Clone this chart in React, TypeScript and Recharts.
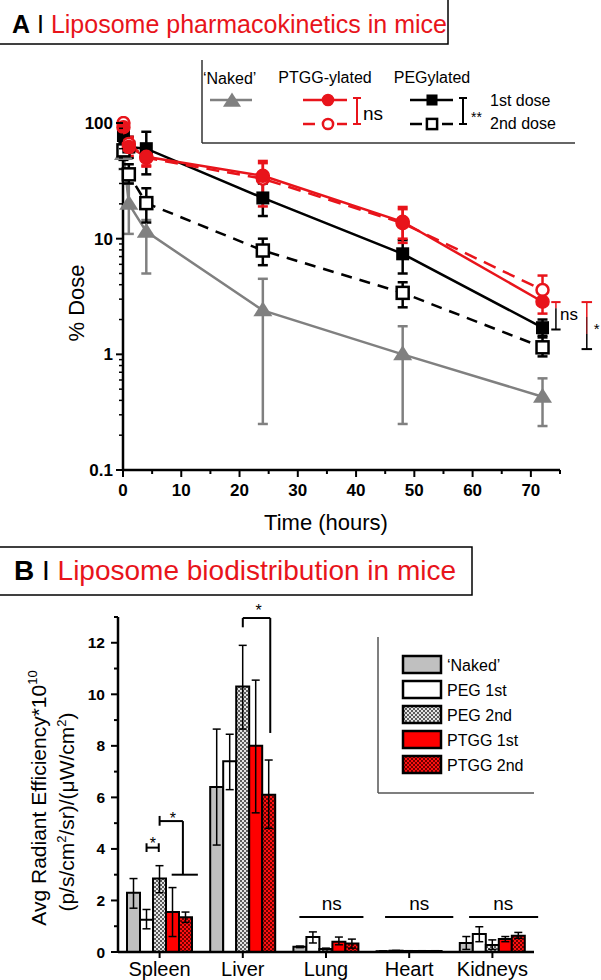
import React from "react";
import {
  LineChart, Line, BarChart, Bar, XAxis, YAxis, ErrorBar,
  ReferenceLine, ReferenceDot, Legend,
} from "recharts";

const FONT = "'Liberation Sans', Arial, Helvetica, sans-serif";
const RED = "#e8141b";
const BAR_RED = "#ff0000";
const GRAY = "#808080";

// ---------- A: pharmacokinetics (% dose vs time) ----------
const hours = [0.08, 1, 4, 24, 48, 72];
const naked = [54, 20, 11.5, 2.4, 1.0, 0.43];
const nakedErr = [[14, 8], [9, 10], [6.5, 3], [2.15, 2.1], [0.75, 0.75], [0.19, 0.19]];
const ptgg1st = [92, 62, 51, 35, 14, 2.85];
const ptgg1stErr = [[10, 8], [10, 12], [8, 10], [16, 12], [4, 4], [0.6, 0.8]];
const ptgg2nd = [100, 66, 50, 33, 13.6, 3.6];
const ptgg2ndErr = [[10, 8], [10, 10], [8, 8], [9, 12], [4.4, 5.2], [0.8, 1.2]];
const peg1st = [78, 62, 60, 22.5, 7.4, 1.7];
const peg1stErr = [[12, 10], [12, 14], [24, 24], [6.8, 7.5], [2.4, 2.3], [0.25, 0.3]];
const peg2nd = [58, 36, 20.3, 7.9, 3.4, 1.15];
const peg2ndErr = [[10, 10], [6, 8], [6.5, 7], [2, 2.1], [0.85, 0.8], [0.19, 0.25]];

const xTicksA = [0, 5, 10, 15, 20, 25, 30, 35, 40, 45, 50, 55, 60, 65, 70, 75];
const xLabelsA = [0, 10, 20, 30, 40, 50, 60, 70];
const yTicksA = [
  0.1, 0.2, 0.3, 0.4, 0.5, 0.6, 0.7, 0.8, 0.9,
  1, 2, 3, 4, 5, 6, 7, 8, 9,
  10, 20, 30, 40, 50, 60, 70, 80, 90, 100,
];
const yLabelsA = [0.1, 1, 10, 100];

const rowsA = hours.map((t, i) => ({
  t,
  naked: naked[i], nakedErr: nakedErr[i],
  ptgg1: ptgg1st[i], ptgg1Err: ptgg1stErr[i],
  ptgg2: ptgg2nd[i], ptgg2Err: ptgg2ndErr[i],
  peg1: peg1st[i], peg1Err: peg1stErr[i],
  peg2: peg2nd[i], peg2Err: peg2ndErr[i],
}));

// ---------- B: biodistribution (bars) ----------
const organs = ["Spleen", "Liver", "Lung", "Heart", "Kidneys"];
const nakedB = [2.3, 6.4, 0.2, 0.03, 0.35];
const nakedBErr = [[0.6, 0.55], [2.25, 2.25], [0.03, 0.03], [0.01, 0.01], [0.25, 0.25]];
const peg1B = [1.25, 7.4, 0.58, 0.05, 0.7];
const peg1BErr = [[0.35, 0.4], [1.1, 1.05], [0.23, 0.2], [0.01, 0.01], [0.3, 0.28]];
const peg2B = [2.85, 10.3, 0.12, 0.04, 0.27];
const peg2BErr = [[0.55, 0.5], [1.65, 1.6], [0.03, 0.03], [0.01, 0.01], [0.17, 0.2]];
const ptgg1B = [1.55, 8.0, 0.4, 0.04, 0.5];
const ptgg1BErr = [[0.95, 0.95], [2.6, 2.55], [0.12, 0.18], [0.01, 0.01], [0.1, 0.1]];
const ptgg2B = [1.35, 6.1, 0.33, 0.04, 0.63];
const ptgg2BErr = [[0.2, 0.2], [1.3, 1.35], [0.18, 0.17], [0.01, 0.01], [0.1, 0.13]];
const yTicksB = [0, 1, 2, 3, 4, 5, 6, 7, 8, 9, 10, 11, 12, 13];

const rowsB = organs.map((organ, i) => ({
  organ,
  pos: i + 0.5, // band centre on the hidden numeric axis used for annotations
  naked: nakedB[i], nakedErr: nakedBErr[i],
  peg1: peg1B[i], peg1Err: peg1BErr[i],
  peg2: peg2B[i], peg2Err: peg2BErr[i],
  ptgg1: ptgg1B[i], ptgg1Err: ptgg1BErr[i],
  ptgg2: ptgg2B[i], ptgg2Err: ptgg2BErr[i],
}));

// ---------- markers ----------
function Marker({ kind, cx, cy, s = 1 }: any) {
  if (cx == null || cy == null) return null;
  switch (kind) {
    case "tri":
      return <path d={`M${cx},${cy - 9 * s} L${cx + 9.5 * s},${cy + 6 * s} L${cx - 9.5 * s},${cy + 6 * s} Z`} fill={GRAY} />;
    case "circleFill":
      return <circle cx={cx} cy={cy} r={6.5 * s} fill={RED} stroke={RED} strokeWidth={1.5} />;
    case "circleOpen":
      return <circle cx={cx} cy={cy} r={6 * s} fill="#fff" stroke={RED} strokeWidth={2.5} />;
    case "sqFill":
      return <rect x={cx - 6.5 * s} y={cy - 6.5 * s} width={13 * s} height={13 * s} fill="#000" />;
    default:
      return <rect x={cx - 6 * s} y={cy - 6 * s} width={12 * s} height={12 * s} fill="#fff" stroke="#000" strokeWidth={2.5} />;
  }
}
const dotFn = (kind: string) => (p: any) => (
  <Marker key={p.key ?? `d-${p.index}`} kind={kind} cx={p.cx} cy={p.cy} />
);

// ---------- ticks ----------
const XTickA = ({ x, y, payload }: any) => {
  const v = payload.value;
  const major = xLabelsA.includes(v);
  return (
    <g>
      <line x1={x} x2={x} y1={y} y2={y + (major ? 7 : 4)} stroke="#000" strokeWidth={2} />
      {major && (
        <text x={x} y={y + 26} textAnchor="middle" fontFamily={FONT} fontWeight="bold" fontSize={17} fill="#000">{v}</text>
      )}
    </g>
  );
};

const YTickA = ({ x, y, payload }: any) => {
  const v = payload.value;
  const major = yLabelsA.includes(v);
  return (
    <g>
      <line x1={x - (major ? 7 : 4)} x2={x} y1={y} y2={y} stroke="#000" strokeWidth={major ? 2 : 1.5} />
      {major && (
        <text x={x - 10} y={y + 6} textAnchor="end" fontFamily={FONT} fontWeight="bold" fontSize={17} fill="#000">{v}</text>
      )}
    </g>
  );
};

const YTickB = ({ x, y, payload }: any) => {
  const v = payload.value;
  const major = v % 2 === 0;
  return (
    <g>
      <line x1={x - (major ? 7 : 4)} x2={x} y1={y} y2={y} stroke="#000" strokeWidth={2} />
      {major && (
        <text x={x - 13} y={y + 5.5} textAnchor="end" fontFamily={FONT} fontWeight="bold" fontSize={15.5} fill="#000">{v}</text>
      )}
    </g>
  );
};

const textShape = (txt: string, size: number, anchor: string = "start") => (p: any) => (
  <text x={p.cx} y={p.cy} fontSize={size} fontFamily={FONT} textAnchor={anchor} fill="#000">{txt}</text>
);

// ---------- legends ----------
function LegendA() {
  const t = { fontFamily: FONT, fontSize: 16, fill: "#000" };
  return (
    <svg width={380} height={88} style={{ display: "block", overflow: "visible" }}>
      <line x1={5} y1={2} x2={5} y2={85} stroke="#333" strokeWidth={1.5} />
      <line x1={5} y1={85} x2={378} y2={85} stroke="#333" strokeWidth={1.5} />
      <text x={6} y={26} {...t}>‘Naked’</text>
      <line x1={13} x2={55} y1={42} y2={42} stroke={GRAY} strokeWidth={2.5} />
      <Marker kind="tri" cx={35} cy={43} s={0.95} />

      <text x={128} y={25} textAnchor="middle" {...t}>PTGG-ylated</text>
      <line x1={106} x2={150} y1={42} y2={42} stroke={RED} strokeWidth={2.5} />
      <Marker kind="circleFill" cx={131} cy={42} s={0.85} />
      <line x1={106} x2={118} y1={66} y2={66} stroke={RED} strokeWidth={2.5} />
      <line x1={140} x2={150} y1={66} y2={66} stroke={RED} strokeWidth={2.5} />
      <Marker kind="circleOpen" cx={131} cy={66} s={0.85} />
      <path d="M156,40 H164 M160,40 V66 M156,66 H164" stroke={RED} strokeWidth={2} fill="none" />
      <text x={166} y={62} {...t} fontSize={19}>ns</text>

      <text x={235} y={25} textAnchor="middle" {...t}>PEGylated</text>
      <line x1={213} x2={256} y1={42} y2={42} stroke="#000" strokeWidth={2.5} />
      <Marker kind="sqFill" cx={235} cy={42} s={0.85} />
      <line x1={213} x2={225} y1={66} y2={66} stroke="#000" strokeWidth={2.5} />
      <line x1={245} x2={256} y1={66} y2={66} stroke="#000" strokeWidth={2.5} />
      <Marker kind="sqOpen" cx={235} cy={66} s={0.85} />
      <path d="M262,40 H270 M266,40 V66 M262,66 H270" stroke="#000" strokeWidth={2} fill="none" />
      <text x={274} y={64} {...t} fontSize={14}>**</text>
      <text x={293} y={48} {...t}>1st dose</text>
      <text x={293} y={71} {...t}>2nd dose</text>
    </svg>
  );
}

const legendBItems = [
  { label: "‘Naked’", fill: "#c0c0c0" },
  { label: "PEG 1st", fill: "#ffffff" },
  { label: "PEG 2nd", fill: "url(#pegChk)" },
  { label: "PTGG 1st", fill: BAR_RED },
  { label: "PTGG 2nd", fill: "url(#ptggChk)" },
];

function LegendB() {
  return (
    <svg width={162} height={162} style={{ display: "block", overflow: "visible" }}>
      <line x1={3} y1={3} x2={3} y2={159} stroke="#555" strokeWidth={1.5} />
      <line x1={3} y1={159} x2={159} y2={159} stroke="#555" strokeWidth={1.5} />
      {legendBItems.map((it, i) => (
        <g key={it.label}>
          <rect x={28} y={22 + i * 25} width={38} height={17} fill={it.fill} stroke="#000" strokeWidth={2.5} />
          <text x={72} y={36.5 + i * 25} fontFamily={FONT} fontSize={16} fill="#000">{it.label}</text>
        </g>
      ))}
    </svg>
  );
}

export default function App() {
  return (
    <div style={{ position: "absolute", left: 0, top: 0, width: 601, height: 980, background: "#fff", overflow: "hidden" }}>
      {/* A: pharmacokinetics */}
      <div style={{ position: "absolute", left: 0, top: 0 }}>
        <LineChart width={601} height={540} data={rowsA} margin={{ top: 116, right: 41, bottom: 0, left: 0 }}>
          <XAxis
            type="number" dataKey="t" domain={[0, 75]} ticks={xTicksA} interval={0}
            height={70} tickSize={0} tickMargin={0} tickLine={false} tick={<XTickA />}
            axisLine={{ stroke: "#000", strokeWidth: 2.5 }}
          />
          <YAxis
            type="number" scale="log" domain={[0.1, 115]} allowDataOverflow ticks={yTicksA} interval={0}
            width={123} tickSize={0} tickMargin={0} tickLine={false} tick={<YTickA />}
            axisLine={{ stroke: "#000", strokeWidth: 2.5 }}
          />
          <Legend
            verticalAlign="middle" align="center" layout="horizontal"
            content={() => <LegendA />}
            wrapperStyle={{ left: 197, top: 58, width: 380, height: 88, margin: 0, padding: 0 }}
          />
          <Line dataKey="naked" stroke={GRAY} strokeWidth={2.5} dot={dotFn("tri")} activeDot={false} isAnimationActive={false}>
            <ErrorBar dataKey="nakedErr" direction="y" width={5} stroke={GRAY} strokeWidth={2.5} />
          </Line>
          <Line dataKey="peg2" stroke="#000" strokeWidth={2.5} strokeDasharray="11 8" dot={dotFn("sqOpen")} activeDot={false} isAnimationActive={false}>
            <ErrorBar dataKey="peg2Err" direction="y" width={5} stroke="#000" strokeWidth={2.5} />
          </Line>
          <Line dataKey="peg1" stroke="#000" strokeWidth={2.5} dot={dotFn("sqFill")} activeDot={false} isAnimationActive={false}>
            <ErrorBar dataKey="peg1Err" direction="y" width={5} stroke="#000" strokeWidth={2.5} />
          </Line>
          <Line dataKey="ptgg2" stroke={RED} strokeWidth={2.5} strokeDasharray="13 8" dot={dotFn("circleOpen")} activeDot={false} isAnimationActive={false}>
            <ErrorBar dataKey="ptgg2Err" direction="y" width={5} stroke={RED} strokeWidth={2.5} />
          </Line>
          <Line dataKey="ptgg1" stroke={RED} strokeWidth={2.5} dot={dotFn("circleFill")} activeDot={false} isAnimationActive={false}>
            <ErrorBar dataKey="ptgg1Err" direction="y" width={5} stroke={RED} strokeWidth={2.5} />
          </Line>

          {/* significance at 72 h */}
          <ReferenceLine ifOverflow="visible" segment={[{ x: 73.5, y: 2.83 }, { x: 75.1, y: 2.83 }]} stroke={RED} strokeWidth={2} />
          <ReferenceLine ifOverflow="visible" segment={[{ x: 74.3, y: 2.83 }, { x: 74.3, y: 2.5 }]} stroke={RED} strokeWidth={1.5} />
          <ReferenceLine ifOverflow="visible" segment={[{ x: 74.3, y: 2.5 }, { x: 74.3, y: 1.64 }]} stroke="#000" strokeWidth={1.5} />
          <ReferenceLine ifOverflow="visible" segment={[{ x: 73.5, y: 1.64 }, { x: 75.1, y: 1.64 }]} stroke="#000" strokeWidth={2} />
          <ReferenceDot ifOverflow="visible" x={75} y={1.97} r={0} shape={textShape("ns", 17)} />

          <ReferenceLine ifOverflow="visible" segment={[{ x: 78.7, y: 2.83 }, { x: 80.5, y: 2.83 }]} stroke={RED} strokeWidth={2} />
          <ReferenceLine ifOverflow="visible" segment={[{ x: 79.6, y: 2.83 }, { x: 79.6, y: 2.1 }]} stroke={RED} strokeWidth={1.5} />
          <ReferenceLine ifOverflow="visible" segment={[{ x: 79.6, y: 2.1 }, { x: 79.6, y: 1.5 }]} stroke="#7a0c10" strokeWidth={1.5} />
          <ReferenceLine ifOverflow="visible" segment={[{ x: 79.6, y: 1.5 }, { x: 79.6, y: 1.11 }]} stroke="#000" strokeWidth={1.5} />
          <ReferenceLine ifOverflow="visible" segment={[{ x: 78.7, y: 1.11 }, { x: 80.5, y: 1.11 }]} stroke="#000" strokeWidth={2} />
          <ReferenceDot ifOverflow="visible" x={81.3} y={1.49} r={0} shape={textShape("*", 15, "middle")} />
        </LineChart>
      </div>

      {/* B: biodistribution */}
      <div style={{ position: "absolute", left: 0, top: 600 }}>
        <BarChart width={601} height={380} data={rowsB} margin={{ top: 17, right: 67, bottom: 0, left: 0 }} barGap={0} barCategoryGap={9}>
          <defs>
            <pattern id="pegChk" width={4} height={4} patternUnits="userSpaceOnUse">
              <rect width={4} height={4} fill="#e4e4e4" />
              <rect width={2} height={2} fill="#5c5c5c" />
              <rect x={2} y={2} width={2} height={2} fill="#5c5c5c" />
            </pattern>
            <pattern id="ptggChk" width={4} height={4} patternUnits="userSpaceOnUse">
              <rect width={4} height={4} fill="#ff1010" />
              <rect width={2} height={2} fill="#6e0000" />
              <rect x={2} y={2} width={2} height={2} fill="#6e0000" />
            </pattern>
          </defs>
          <XAxis
            dataKey="organ" height={28} interval={0} tickSize={6} tickMargin={4}
            axisLine={{ stroke: "#000", strokeWidth: 2.5 }} tickLine={{ stroke: "#000", strokeWidth: 2 }}
            tick={{ fill: "#000", fontSize: 20, fontFamily: FONT }}
          />
          <XAxis xAxisId="num" dataKey="pos" type="number" domain={[0, 5]} allowDataOverflow hide />
          <YAxis
            type="number" domain={[0, 13]} ticks={yTicksB} interval={0} width={118}
            tickSize={0} tickMargin={0} tickLine={false} tick={<YTickB />}
            axisLine={{ stroke: "#000", strokeWidth: 2.5 }}
          />
          <Legend
            verticalAlign="middle" align="center" layout="horizontal"
            content={() => <LegendB />}
            wrapperStyle={{ left: 375, top: 34, width: 162, height: 162, margin: 0, padding: 0 }}
          />
          <Bar dataKey="naked" fill="#c0c0c0" stroke="#000" strokeWidth={2} isAnimationActive={false}>
            <ErrorBar dataKey="nakedErr" width={4} stroke="#000" strokeWidth={1.5} />
          </Bar>
          <Bar dataKey="peg1" fill="#ffffff" stroke="#000" strokeWidth={2} isAnimationActive={false}>
            <ErrorBar dataKey="peg1Err" width={4} stroke="#000" strokeWidth={1.5} />
          </Bar>
          <Bar dataKey="peg2" fill="url(#pegChk)" stroke="#000" strokeWidth={2} isAnimationActive={false}>
            <ErrorBar dataKey="peg2Err" width={4} stroke="#000" strokeWidth={1.5} />
          </Bar>
          <Bar dataKey="ptgg1" fill={BAR_RED} stroke="#000" strokeWidth={2} isAnimationActive={false}>
            <ErrorBar dataKey="ptgg1Err" width={4} stroke="#000" strokeWidth={1.5} />
          </Bar>
          <Bar dataKey="ptgg2" fill="url(#ptggChk)" stroke="#000" strokeWidth={2} isAnimationActive={false}>
            <ErrorBar dataKey="ptgg2Err" width={4} stroke="#000" strokeWidth={1.5} />
          </Bar>

          {/* Spleen: PEG 1st vs 2nd */}
          <ReferenceLine xAxisId="num" ifOverflow="visible" segment={[{ x: 0.343, y: 4.05 }, { x: 0.49, y: 4.05 }]} stroke="#000" strokeWidth={2} />
          <ReferenceLine xAxisId="num" ifOverflow="visible" segment={[{ x: 0.343, y: 3.88 }, { x: 0.343, y: 4.22 }]} stroke="#000" strokeWidth={2} />
          <ReferenceLine xAxisId="num" ifOverflow="visible" segment={[{ x: 0.49, y: 3.88 }, { x: 0.49, y: 4.22 }]} stroke="#000" strokeWidth={2} />
          <ReferenceDot xAxisId="num" ifOverflow="visible" x={0.42} y={4.0} r={0} shape={textShape("*", 16, "middle")} />
          {/* Spleen: PEG 2nd vs PTGG */}
          <ReferenceLine xAxisId="num" ifOverflow="visible" segment={[{ x: 0.5, y: 4.9 }, { x: 0.5, y: 5.28 }]} stroke="#000" strokeWidth={2} />
          <ReferenceLine xAxisId="num" ifOverflow="visible" segment={[{ x: 0.5, y: 5.08 }, { x: 0.78, y: 5.08 }]} stroke="#000" strokeWidth={2} />
          <ReferenceLine xAxisId="num" ifOverflow="visible" segment={[{ x: 0.78, y: 5.08 }, { x: 0.78, y: 3.0 }]} stroke="#000" strokeWidth={2} />
          <ReferenceLine xAxisId="num" ifOverflow="visible" segment={[{ x: 0.645, y: 3.0 }, { x: 0.96, y: 3.0 }]} stroke="#000" strokeWidth={2} />
          <ReferenceDot xAxisId="num" ifOverflow="visible" x={0.66} y={4.97} r={0} shape={textShape("*", 16, "middle")} />
          {/* Liver */}
          <ReferenceLine xAxisId="num" ifOverflow="visible" segment={[{ x: 1.5, y: 12.6 }, { x: 1.5, y: 12.96 }]} stroke="#000" strokeWidth={2} />
          <ReferenceLine xAxisId="num" ifOverflow="visible" segment={[{ x: 1.5, y: 12.96 }, { x: 1.83, y: 12.96 }]} stroke="#000" strokeWidth={2} />
          <ReferenceLine xAxisId="num" ifOverflow="visible" segment={[{ x: 1.83, y: 12.96 }, { x: 1.83, y: 8.5 }]} stroke="#000" strokeWidth={2} />
          <ReferenceDot xAxisId="num" ifOverflow="visible" x={1.69} y={13.05} r={0} shape={textShape("*", 16, "middle")} />
          {/* ns lines */}
          <ReferenceLine xAxisId="num" ifOverflow="visible" segment={[{ x: 2.18, y: 1.36 }, { x: 2.95, y: 1.36 }]} stroke="#000" strokeWidth={2} />
          <ReferenceDot xAxisId="num" ifOverflow="visible" x={2.57} y={1.63} r={0} shape={textShape("ns", 19, "middle")} />
          <ReferenceLine xAxisId="num" ifOverflow="visible" segment={[{ x: 3.21, y: 1.36 }, { x: 4.03, y: 1.36 }]} stroke="#000" strokeWidth={2} />
          <ReferenceDot xAxisId="num" ifOverflow="visible" x={3.62} y={1.63} r={0} shape={textShape("ns", 19, "middle")} />
          <ReferenceLine xAxisId="num" ifOverflow="visible" segment={[{ x: 4.22, y: 1.36 }, { x: 5.05, y: 1.36 }]} stroke="#000" strokeWidth={2} />
          <ReferenceDot xAxisId="num" ifOverflow="visible" x={4.63} y={1.63} r={0} shape={textShape("ns", 19, "middle")} />
        </BarChart>
      </div>

      {/* titles and axis titles */}
      <svg width={601} height={980} style={{ position: "absolute", left: 0, top: 0, pointerEvents: "none" }}>
        <rect x={-2} y={-2} width={450} height={46} fill="#fff" stroke="#000" strokeWidth={1.5} />
        <text x={12} y={33} fontFamily={FONT} fontSize={25}>
          <tspan fontWeight="bold" fill="#000">A</tspan>
          <tspan fill="#000"> I </tspan>
          <tspan fill={RED}>Liposome pharmacokinetics in mice</tspan>
        </text>
        <rect x={-2} y={547} width={474} height={48} fill="#fff" stroke="#000" strokeWidth={1.5} />
        <text x={14} y={580} fontFamily={FONT} fontSize={28}>
          <tspan fontWeight="bold" fill="#000">B</tspan>
          <tspan fill="#000"> I </tspan>
          <tspan fill={RED}>Liposome biodistribution in mice</tspan>
        </text>

        <text transform="translate(84,303) rotate(-90)" textAnchor="middle" fontFamily={FONT} fontSize={22} fill="#000">% Dose</text>
        <text x={326} y={530} textAnchor="middle" fontFamily={FONT} fontSize={22} fill="#000">Time (hours)</text>

        <text transform="translate(46,798) rotate(-90)" textAnchor="middle" fontFamily={FONT} fontSize={21} fill="#000">
          Avg Radiant Efficiency*10<tspan dy={-9} fontSize={13}>10</tspan>
        </text>
        <text transform="translate(74,812) rotate(-90)" textAnchor="middle" fontFamily={FONT} fontSize={21} fill="#000">
          (p/s/cm<tspan dy={-8} fontSize={13}>2</tspan><tspan dy={8}>/sr)/(μW/cm</tspan><tspan dy={-8} fontSize={13}>2</tspan><tspan dy={8}>)</tspan>
        </text>
      </svg>
    </div>
  );
}
